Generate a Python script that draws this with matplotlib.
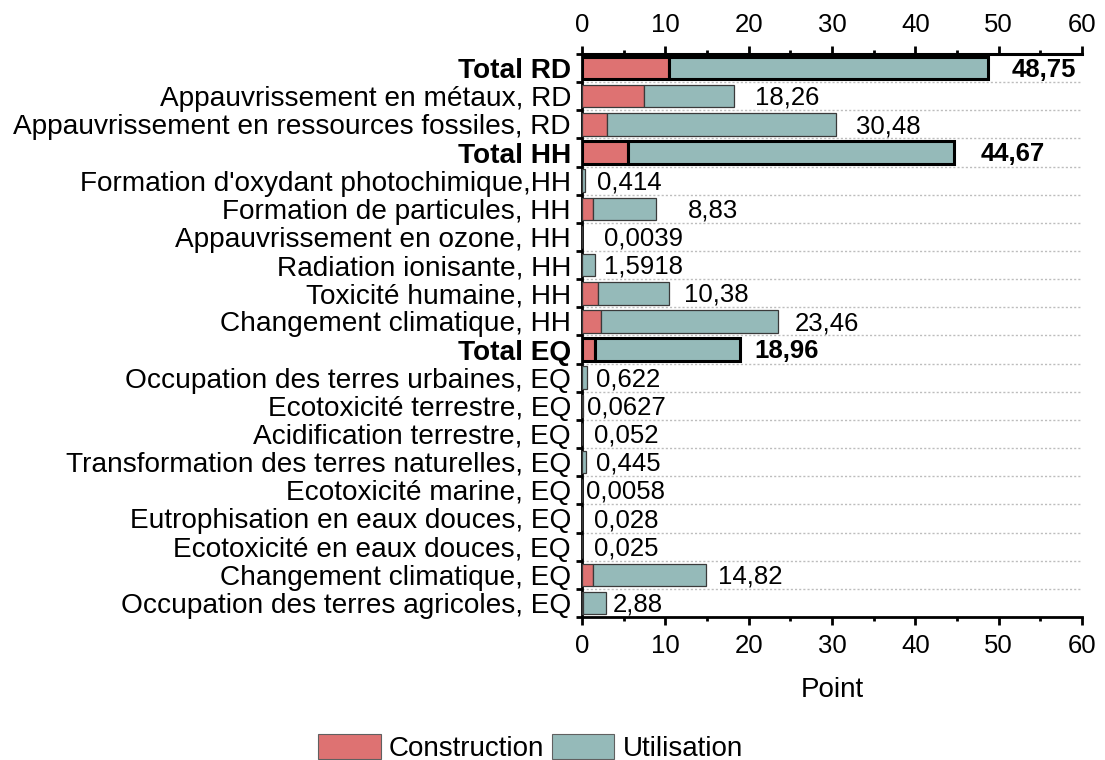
import matplotlib.pyplot as plt
import numpy as np
from matplotlib.ticker import MultipleLocator, FixedLocator
from matplotlib.patches import Patch

plt.rcParams['font.family'] = ['Liberation Sans', 'DejaVu Sans']

categories = [
    "Total RD",
    "Appauvrissement en métaux, RD",
    "Appauvrissement en ressources fossiles, RD",
    "Total HH",
    "Formation d'oxydant photochimique,HH",
    "Formation de particules, HH",
    "Appauvrissement en ozone, HH",
    "Radiation ionisante, HH",
    "Toxicité humaine, HH",
    "Changement climatique, HH",
    "Total EQ",
    "Occupation des terres urbaines, EQ",
    "Ecotoxicité terrestre, EQ",
    "Acidification terrestre, EQ",
    "Transformation des terres naturelles, EQ",
    "Ecotoxicité marine, EQ",
    "Eutrophisation en eaux douces, EQ",
    "Ecotoxicité en eaux douces, EQ",
    "Changement climatique, EQ",
    "Occupation des terres agricoles, EQ",
]
totals = np.array([48.75, 18.26, 30.48, 44.67, 0.414, 8.83, 0.0039, 1.5918,
                   10.38, 23.46, 18.96, 0.622, 0.0627, 0.052, 0.445, 0.0058,
                   0.028, 0.025, 14.82, 2.88])
construction = np.array([10.4, 7.4, 3.0, 5.56, 0.02, 1.3, 0.0002, 0.03,
                         1.9, 2.3, 1.6, 0.03, 0.003, 0.002, 0.02, 0.0003,
                         0.001, 0.001, 1.35, 0.15])
utilisation = totals - construction
is_total = [c.startswith("Total") for c in categories]

# gap (px) between bar end and its value label
label_pad = [23, 21, 20, 26, 12, 32, 22, 9, 15, 17, 14, 9, 4, 12, 10, 4, 12, 12, 13, 7]

red = "#DE7272"
teal = "#95BAB9"

fig = plt.figure(figsize=(11.05, 7.6), dpi=100)
ax = fig.add_axes([582 / 1105, 1 - 617 / 760, 500 / 1105, 563 / 760])

y = np.arange(len(categories))
for i in y:
    if is_total[i]:
        ec, lw = "black", 2.2
    else:
        ec, lw = "#3A3A3A", 0.9
    ax.barh(i, construction[i], height=0.8, color=red, edgecolor=ec, linewidth=lw, zorder=3)
    ax.barh(i, utilisation[i], left=construction[i], height=0.8, color=teal,
            edgecolor=ec, linewidth=lw, zorder=3)
    txt = f"{totals[i]}".replace(".", ",")
    ax.annotate(txt, (totals[i], i), xytext=(label_pad[i] * 0.72, -1.2),
                textcoords="offset points", ha="left", va="center",
                fontsize=18.5, fontweight="bold" if is_total[i] else "normal")

ax.set_xlim(0, 60)
ax.set_ylim(len(categories) - 0.5, -0.5)

ax.set_yticks(y)
ax.set_yticklabels(categories, fontsize=20.2)
for lab, t in zip(ax.get_yticklabels(), is_total):
    if t:
        lab.set_fontweight("bold")
ax.yaxis.set_minor_locator(FixedLocator(np.arange(-0.5, len(categories), 1)))
ax.tick_params(axis="y", which="major", length=0, pad=8)
ax.tick_params(axis="y", which="minor", length=4, width=2, direction="out")
ax.grid(axis="y", which="minor", linestyle=(0, (1.5, 1.5)), color="#BDBDBD", linewidth=1)

ax.xaxis.set_major_locator(MultipleLocator(10))
ax.xaxis.set_minor_locator(MultipleLocator(5))
ax.tick_params(axis="x", which="both", top=True, labeltop=True, direction="out",
               width=2, labelsize=18.5)
ax.tick_params(axis="x", which="major", length=6, pad=6)
ax.tick_params(axis="x", which="minor", length=3)
ax.set_xlabel("Point", fontsize=20, labelpad=14)

ax.spines["right"].set_visible(False)
ax.spines["left"].set_linewidth(2)
ax.spines["top"].set_linewidth(2.2)
ax.spines["bottom"].set_linewidth(2)
ax.set_axisbelow(True)

handles = [Patch(facecolor=red, edgecolor="#606060", linewidth=0.8, label="Construction"),
           Patch(facecolor=teal, edgecolor="#606060", linewidth=0.8, label="Utilisation")]
fig.legend(handles=handles, loc="center", bbox_to_anchor=(0.48, 0.016), ncol=2,
           frameon=False, fontsize=20, handlelength=2.25, handleheight=1.0,
           handletextpad=0.3, columnspacing=0.26, borderpad=0)

fig.savefig("out.png", dpi=100)
